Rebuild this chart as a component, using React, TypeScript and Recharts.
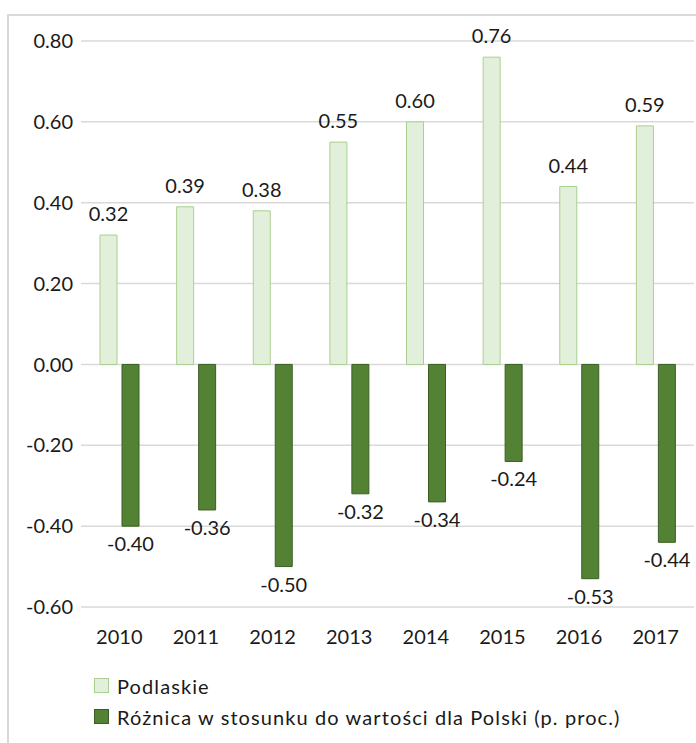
import React from 'react';
import { BarChart, Bar, XAxis, YAxis, CartesianGrid, Legend, LabelList } from 'recharts';

const years = ['2010', '2011', '2012', '2013', '2014', '2015', '2016', '2017'];
const podlaskie = [0.32, 0.39, 0.38, 0.55, 0.6, 0.76, 0.44, 0.59];
const roznica = [-0.4, -0.36, -0.5, -0.32, -0.34, -0.24, -0.53, -0.44];
const yTicks = [-0.6, -0.4, -0.2, 0, 0.2, 0.4, 0.6, 0.8];
const seriesNames = ['Podlaskie', 'Różnica w stosunku do wartości dla Polski (p. proc.)'];

const data = years.map((y, i) => ({ year: y, a: podlaskie[i], b: roznica[i] }));

const FONT = 'Lato, "Open Sans", sans-serif';
const TXT = '#1a1a1a';
const LIGHT_FILL = '#e2efda';
const LIGHT_STROKE = '#a9d08e';
const DARK_FILL = '#548235';
const DARK_STROKE = '#3b5e25';

const fmt = (v: number) => v.toFixed(2);

const renderLabel = (props: any) => {
  const { x, y, width, height, value } = props;
  const top = Math.min(y, y + height);
  const bottom = Math.max(y, y + height);
  const cx = x + width / 2;
  const ty = value >= 0 ? top - 14 : bottom + 25;
  return (
    <text x={cx} y={ty} textAnchor="middle" fontFamily={FONT} fontSize={20} fill={TXT}>
      {fmt(value)}
    </text>
  );
};

const LegendContent = () => (
  <div style={{ fontFamily: FONT, fontSize: 20, color: TXT, letterSpacing: 1.1 }}>
    {[LIGHT_FILL, DARK_FILL].map((c, i) => (
      <div key={i} style={{ display: 'flex', alignItems: 'center', height: 31, whiteSpace: 'nowrap' }}>
        <span
          style={{
            display: 'inline-block',
            width: 13,
            height: 13,
            background: c,
            border: `1px solid ${i === 0 ? LIGHT_STROKE : DARK_STROKE}`,
            marginRight: 8,
          }}
        />
        <span>{seriesNames[i]}</span>
      </div>
    ))}
  </div>
);

export default function App() {
  return (
    <div
      style={{
        position: 'absolute',
        left: 7,
        top: 14,
        width: 700,
        height: 740,
        borderLeft: '2px solid #d9d9d9',
        borderTop: '2px solid #d9d9d9',
      }}
    >
      <BarChart
        width={687}
        height={727}
        data={data}
        margin={{ top: 25, right: 2, left: 0, bottom: 96 }}
        barSize={17}
        barGap={5}
      >
        <CartesianGrid vertical={false} stroke="#d9d9d9" strokeWidth={1.5} />
        <XAxis
          dataKey="year"
          axisLine={false}
          tickLine={false}
          tickSize={0}
          tickMargin={23}
          height={40}
          tick={{ fontFamily: FONT, fontSize: 20, fill: TXT }}
          interval={0}
        />
        <YAxis
          domain={[-0.6, 0.8]}
          ticks={yTicks}
          tickFormatter={fmt}
          axisLine={false}
          tickLine={false}
          tickSize={0}
          tickMargin={8}
          width={72}
          tick={{ fontFamily: FONT, fontSize: 20, fill: TXT }}
          interval={0}
        />
        <Legend
          layout="horizontal"
          verticalAlign="middle"
          align="center"
          wrapperStyle={{ top: 654, left: 85, width: 'auto', height: 'auto' }}
          content={<LegendContent />}
        />
        <Bar dataKey="a" name={seriesNames[0]} fill={LIGHT_FILL} stroke={LIGHT_STROKE} strokeWidth={1} isAnimationActive={false}>
          <LabelList dataKey="a" content={renderLabel} />
        </Bar>
        <Bar dataKey="b" name={seriesNames[1]} fill={DARK_FILL} stroke={DARK_STROKE} strokeWidth={1} isAnimationActive={false}>
          <LabelList dataKey="b" content={renderLabel} />
        </Bar>
      </BarChart>
    </div>
  );
}
